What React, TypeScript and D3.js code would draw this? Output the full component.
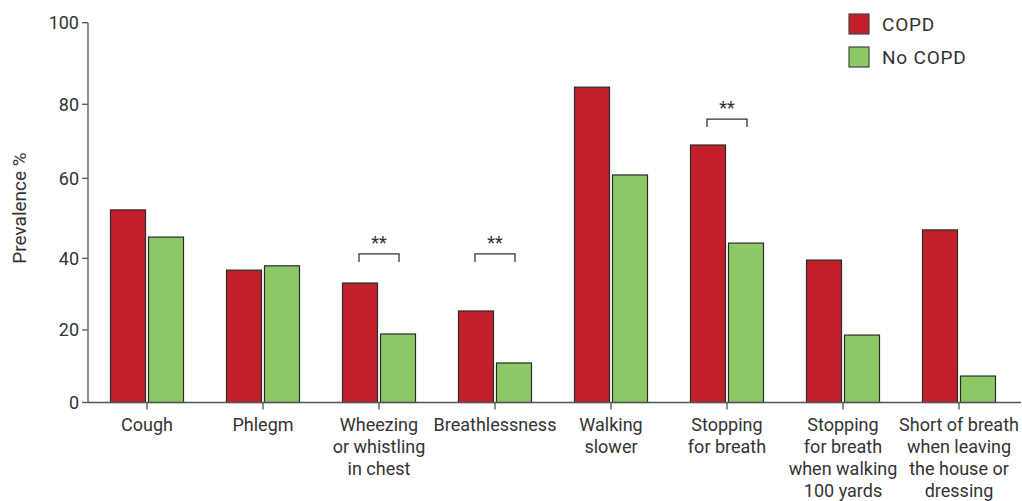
import React from "react";
import * as d3 from "d3";

const categories = [
  ["Cough"],
  ["Phlegm"],
  ["Wheezing", "or whistling", "in chest"],
  ["Breathlessness"],
  ["Walking", "slower"],
  ["Stopping", "for breath"],
  ["Stopping", "for breath", "when walking", "100 yards"],
  ["Short of breath", "when leaving", "the house or", "dressing"],
];
const copd = [52.1, 36.7, 33.1, 25.3, 84.2, 69.0, 39.5, 47.1];
const noCopd = [45.3, 37.9, 18.9, 10.9, 60.9, 43.8, 18.6, 7.3];
const yTicks = [0, 20, 40, 60, 80, 100];
const significant = [2, 3, 5];
const bracketLevels = [41.1, 41.1, 76.0];
const seriesNames = ["COPD", "No COPD"];

const RED = "#C1202A";
const GREEN = "#8CC866";
const FONT = "Roboto, 'DejaVu Sans', sans-serif";

// the original figure's axis is drawn with slightly uneven tick spacing
const Y_PIXELS = [402.5, 330, 258.3, 178.3, 104.3, 22.7];

export default function App() {
  const W = 1022, H = 501;
  const x0 = 88;
  const idx = categories.map((_, i) => String(i));
  const x = d3.scaleBand().domain(idx).range([89, 1017]).paddingInner(0).paddingOuter(0);
  const y = d3.scaleLinear().domain(yTicks).range(Y_PIXELS);
  const barW = 35;
  const gap = 3;

  return (
    <svg width={W} height={H} style={{ position: "absolute", left: 0, top: 0 }} fontFamily={FONT}>
      {categories.map((_, i) => {
        const c = x(String(i))! + x.bandwidth() / 2;
        return (
          <g key={i}>
            <rect x={c - gap / 2 - barW} y={y(copd[i])} width={barW} height={y(0) - y(copd[i])}
              fill={RED} stroke="#2a2a2a" strokeWidth={1.2} />
            <rect x={c + gap / 2} y={y(noCopd[i])} width={barW} height={y(0) - y(noCopd[i])}
              fill={GREEN} stroke="#2a2a2a" strokeWidth={1.2} />
          </g>
        );
      })}
      <line x1={x0} x2={x0} y1={y(100)} y2={y(0)} stroke="#555" strokeWidth={1.3} />
      <line x1={x0} x2={1021} y1={y(0)} y2={y(0)} stroke="#555" strokeWidth={1.3} />
      {yTicks.map((t) => (
        <g key={t}>
          <line x1={x0 - 6} x2={x0} y1={y(t)} y2={y(t)} stroke="#555" strokeWidth={1.3} />
          <text x={x0 - 9} y={y(t)} dy="0.35em" textAnchor="end" fontSize={18} fill="#333">{t}</text>
        </g>
      ))}
      <text transform={`translate(26,208) rotate(-90)`} textAnchor="middle" fontSize={19} fill="#333">
        Prevalence %
      </text>
      {categories.map((lines, i) => {
        const c = x(String(i))! + x.bandwidth() / 2;
        return (
          <g key={i}>
            <line x1={c} x2={c} y1={y(0)} y2={y(0) + 7} stroke="#555" strokeWidth={1.3} />
            {lines.map((l, j) => (
              <text key={j} x={c} y={425 + j * 22} dy="0.35em" textAnchor="middle" fontSize={18} fill="#333">
                {l}
              </text>
            ))}
          </g>
        );
      })}
      {significant.map((i, k) => {
        const c = x(String(i))! + x.bandwidth() / 2;
        const by = y(bracketLevels[k]);
        const x1 = c - gap / 2 - barW / 2 - 1;
        const x2 = c + gap / 2 + barW / 2 + 1;
        return (
          <g key={i}>
            <path d={`M${x1},${by + 8}V${by}H${x2}V${by + 8}`} fill="none" stroke="#333" strokeWidth={1.3} />
            <text x={c} y={by - 5} textAnchor="middle" fontSize={18} fill="#333">**</text>
          </g>
        );
      })}
      {seriesNames.map((s, k) => (
        <g key={s} transform={`translate(849,${14 + k * 33})`}>
          <rect x={0} y={0} width={20} height={20} fill={k === 0 ? RED : GREEN} stroke="#444" strokeWidth={1.2} />
          <text x={33} y={10} dy="0.35em" fontSize={19} letterSpacing={0.8} fill="#333">{s}</text>
        </g>
      ))}
    </svg>
  );
}
